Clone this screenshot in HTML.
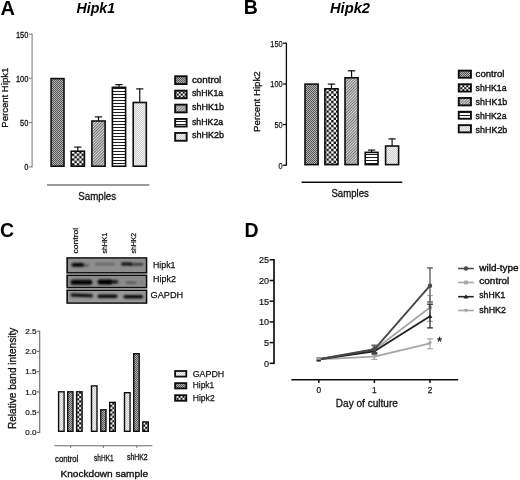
<!DOCTYPE html>
<html><head><meta charset="utf-8"><title>Figure</title>
<style>
html,body{margin:0;padding:0;background:#fff;}
body{width:520px;height:480px;overflow:hidden;font-family:"Liberation Sans",sans-serif;}
svg{display:block;font-family:"Liberation Sans",sans-serif;}
</style></head><body>
<svg width="520" height="480" viewBox="0 0 520 480">
<defs>
<pattern id="pDots" width="2" height="2" patternUnits="userSpaceOnUse"><rect width="2" height="2" fill="#b4b4b4"/><rect width="1" height="1" fill="#555"/><rect x="1" y="1" width="1" height="1" fill="#555"/></pattern>
<pattern id="pCheck" width="4.8" height="4.8" patternUnits="userSpaceOnUse"><rect width="4.8" height="4.8" fill="#fff"/><rect width="2.4" height="2.4" fill="#111"/><rect x="2.4" y="2.4" width="2.4" height="2.4" fill="#111"/></pattern>
<pattern id="pDiag" width="2" height="2" patternUnits="userSpaceOnUse" patternTransform="rotate(-45)"><rect width="2" height="2" fill="#dcdcdc"/><rect width="2" height="0.9" fill="#666"/></pattern>
<pattern id="pHoriz" width="3" height="3" patternUnits="userSpaceOnUse" patternTransform="translate(0 1)"><rect width="3" height="3" fill="#fff"/><rect y="0" width="3" height="1.0" fill="#1c1c1c"/></pattern>
<pattern id="pLight" width="2" height="2" patternUnits="userSpaceOnUse"><rect width="2" height="2" fill="#cdcdcd"/><rect width="1" height="1" fill="#f2f2f2"/><rect x="1" y="1" width="1" height="1" fill="#f2f2f2"/></pattern>
<pattern id="pCheckS" width="4.4" height="4.4" patternUnits="userSpaceOnUse"><rect width="4.4" height="4.4" fill="#fff"/><rect width="2.2" height="2.2" fill="#111"/><rect x="2.2" y="2.2" width="2.2" height="2.2" fill="#111"/></pattern>
<filter id="blur" x="-5%" y="-5%" width="110%" height="110%"><feGaussianBlur stdDeviation="0.4"/></filter>
<filter id="blurB" x="-30%" y="-80%" width="160%" height="260%"><feGaussianBlur stdDeviation="0.8"/></filter>
</defs>
<rect width="520" height="480" fill="#fff"/>
<g filter="url(#blur)">

<text x="0.5" y="14.6" font-size="20" font-weight="bold" fill="#000" >A</text>
<text x="76.6" y="12.8" font-size="14.4" textLength="38.5" lengthAdjust="spacingAndGlyphs" font-weight="bold" font-style="italic" fill="#000" >Hipk1</text>
<line x1="32.10" y1="33.60" x2="32.10" y2="167.40" stroke="#808080" stroke-width="1.1" />
<line x1="28.80" y1="34.10" x2="32.10" y2="34.10" stroke="#808080" stroke-width="1.1" />
<text x="28.4" y="37.6" font-size="9.7" textLength="12.450000000000001" lengthAdjust="spacingAndGlyphs" text-anchor="end" stroke="#141414" stroke-width="0.3" fill="#141414" >150</text>
<line x1="28.80" y1="78.20" x2="32.10" y2="78.20" stroke="#808080" stroke-width="1.1" />
<text x="28.4" y="81.7" font-size="9.7" textLength="12.450000000000001" lengthAdjust="spacingAndGlyphs" text-anchor="end" stroke="#141414" stroke-width="0.3" fill="#141414" >100</text>
<line x1="28.80" y1="122.60" x2="32.10" y2="122.60" stroke="#808080" stroke-width="1.1" />
<text x="28.4" y="126.1" font-size="9.7" textLength="8.3" lengthAdjust="spacingAndGlyphs" text-anchor="end" stroke="#141414" stroke-width="0.3" fill="#141414" >50</text>
<line x1="28.80" y1="166.90" x2="32.10" y2="166.90" stroke="#808080" stroke-width="1.1" />
<text x="28.4" y="170.4" font-size="9.7" textLength="4.15" lengthAdjust="spacingAndGlyphs" text-anchor="end" stroke="#141414" stroke-width="0.3" fill="#141414" >0</text>
<text x="8.1" y="127.7" font-size="9.9" textLength="60" lengthAdjust="spacingAndGlyphs" transform="rotate(-90 8.1 127.7)" stroke="#141414" stroke-width="0.3" fill="#141414" >Percent Hipk1</text>
<rect x="51.10" y="78.60" width="12.90" height="87.60" fill="url(#pDots)" stroke="#111" stroke-width="1.6"/>
<line x1="77.80" y1="146.80" x2="77.80" y2="151.40" stroke="#111" stroke-width="1.2" />
<line x1="74.15" y1="147.10" x2="81.45" y2="147.10" stroke="#111" stroke-width="1.2" />
<rect x="71.20" y="151.20" width="13.20" height="15.00" fill="url(#pCheck)" stroke="#111" stroke-width="1.6"/>
<line x1="98.50" y1="116.60" x2="98.50" y2="121.20" stroke="#111" stroke-width="1.2" />
<line x1="94.85" y1="116.90" x2="102.15" y2="116.90" stroke="#111" stroke-width="1.2" />
<rect x="91.90" y="121.00" width="13.20" height="45.20" fill="url(#pDiag)" stroke="#111" stroke-width="1.6"/>
<line x1="119.00" y1="84.30" x2="119.00" y2="87.50" stroke="#111" stroke-width="1.2" />
<line x1="115.35" y1="84.60" x2="122.65" y2="84.60" stroke="#111" stroke-width="1.2" />
<rect x="112.40" y="87.30" width="13.20" height="78.90" fill="url(#pHoriz)" stroke="#111" stroke-width="1.6"/>
<line x1="139.75" y1="88.60" x2="139.75" y2="102.70" stroke="#111" stroke-width="1.2" />
<line x1="136.10" y1="88.90" x2="143.40" y2="88.90" stroke="#111" stroke-width="1.2" />
<rect x="133.20" y="102.50" width="13.10" height="63.70" fill="url(#pLight)" stroke="#111" stroke-width="1.6"/>
<line x1="47.00" y1="185.00" x2="149.30" y2="185.00" stroke="#787878" stroke-width="1.4" />
<text x="78.3" y="200.4" font-size="10" textLength="37.8" lengthAdjust="spacingAndGlyphs" stroke="#141414" stroke-width="0.3" fill="#141414" >Samples</text>
<pattern id="pcA" x="176.70" y="91.60" width="4.0" height="4.0" patternUnits="userSpaceOnUse"><rect width="4.0" height="4.0" fill="#111"/><rect width="2.0" height="2.0" fill="#fff"/><rect x="2.0" y="2.0" width="2.0" height="2.0" fill="#fff"/></pattern>
<rect x="175.15" y="76.25" width="11.50" height="7.80" fill="url(#pDots)" stroke="#111" stroke-width="1.9"/>
<text x="191.9" y="82.5" font-size="9.9" textLength="29.4" lengthAdjust="spacingAndGlyphs" stroke="#141414" stroke-width="0.4" fill="#141414" >control</text>
<rect x="175.15" y="90.65" width="11.50" height="7.60" fill="url(#pcA)" stroke="#111" stroke-width="1.9"/>
<text x="191.9" y="96.3" font-size="9.9" textLength="31.3" lengthAdjust="spacingAndGlyphs" stroke="#141414" stroke-width="0.4" fill="#141414" >shHK1a</text>
<rect x="175.15" y="104.65" width="11.50" height="7.70" fill="url(#pDiag)" stroke="#111" stroke-width="1.9"/>
<text x="191.9" y="110.3" font-size="9.9" textLength="32.0" lengthAdjust="spacingAndGlyphs" stroke="#141414" stroke-width="0.4" fill="#141414" >shHK1b</text>
<rect x="175.15" y="118.95" width="11.50" height="7.60" fill="url(#pHoriz)" stroke="#111" stroke-width="1.9"/>
<text x="191.9" y="124.6" font-size="9.9" textLength="31.3" lengthAdjust="spacingAndGlyphs" stroke="#141414" stroke-width="0.4" fill="#141414" >shHK2a</text>
<rect x="175.15" y="132.95" width="11.50" height="7.80" fill="url(#pLight)" stroke="#111" stroke-width="1.9"/>
<text x="191.9" y="138.4" font-size="9.9" textLength="32.0" lengthAdjust="spacingAndGlyphs" stroke="#141414" stroke-width="0.4" fill="#141414" >shHK2b</text>
<text x="243.8" y="14.2" font-size="19.5" font-weight="bold" fill="#000" >B</text>
<text x="330.0" y="12.5" font-size="14.4" textLength="40" lengthAdjust="spacingAndGlyphs" font-weight="bold" font-style="italic" fill="#000" >Hipk2</text>
<line x1="286.40" y1="42.60" x2="286.40" y2="165.80" stroke="#111" stroke-width="1.3" />
<line x1="283.00" y1="43.20" x2="286.40" y2="43.20" stroke="#111" stroke-width="1.3" />
<text x="282.6" y="46.6" font-size="9.3" textLength="12.299999999999999" lengthAdjust="spacingAndGlyphs" text-anchor="end" stroke="#141414" stroke-width="0.25" fill="#141414" >150</text>
<line x1="283.00" y1="84.00" x2="286.40" y2="84.00" stroke="#111" stroke-width="1.3" />
<text x="282.6" y="87.4" font-size="9.3" textLength="12.299999999999999" lengthAdjust="spacingAndGlyphs" text-anchor="end" stroke="#141414" stroke-width="0.25" fill="#141414" >100</text>
<line x1="283.00" y1="124.60" x2="286.40" y2="124.60" stroke="#111" stroke-width="1.3" />
<text x="282.6" y="128.0" font-size="9.3" textLength="8.2" lengthAdjust="spacingAndGlyphs" text-anchor="end" stroke="#141414" stroke-width="0.25" fill="#141414" >50</text>
<line x1="283.00" y1="165.20" x2="286.40" y2="165.20" stroke="#111" stroke-width="1.3" />
<text x="282.6" y="168.6" font-size="9.3" textLength="4.1" lengthAdjust="spacingAndGlyphs" text-anchor="end" stroke="#141414" stroke-width="0.25" fill="#141414" >0</text>
<text x="260.4" y="132.0" font-size="9.7" textLength="60.7" lengthAdjust="spacingAndGlyphs" transform="rotate(-90 260.4 132.0)" stroke="#141414" stroke-width="0.3" fill="#141414" >Percent Hipk2</text>
<rect x="305.00" y="84.10" width="13.10" height="80.50" fill="url(#pDots)" stroke="#111" stroke-width="1.6"/>
<line x1="331.45" y1="83.80" x2="331.45" y2="89.00" stroke="#111" stroke-width="1.2" />
<line x1="327.80" y1="84.10" x2="335.10" y2="84.10" stroke="#111" stroke-width="1.2" />
<rect x="324.90" y="88.80" width="13.10" height="75.80" fill="url(#pCheck)" stroke="#111" stroke-width="1.6"/>
<line x1="351.55" y1="70.50" x2="351.55" y2="78.00" stroke="#111" stroke-width="1.2" />
<line x1="347.90" y1="70.80" x2="355.20" y2="70.80" stroke="#111" stroke-width="1.2" />
<rect x="345.00" y="77.80" width="13.10" height="86.80" fill="url(#pDiag)" stroke="#111" stroke-width="1.6"/>
<line x1="371.60" y1="149.80" x2="371.60" y2="152.60" stroke="#111" stroke-width="1.2" />
<line x1="367.95" y1="150.10" x2="375.25" y2="150.10" stroke="#111" stroke-width="1.2" />
<rect x="365.20" y="152.40" width="12.80" height="12.20" fill="url(#pHoriz)" stroke="#111" stroke-width="1.6"/>
<line x1="392.10" y1="138.60" x2="392.10" y2="146.20" stroke="#111" stroke-width="1.2" />
<line x1="388.45" y1="138.90" x2="395.75" y2="138.90" stroke="#111" stroke-width="1.2" />
<rect x="385.60" y="146.00" width="13.00" height="18.60" fill="url(#pLight)" stroke="#111" stroke-width="1.6"/>
<line x1="301.50" y1="182.20" x2="402.30" y2="182.20" stroke="#111" stroke-width="1.4" />
<text x="331.4" y="196.5" font-size="10" textLength="37.4" lengthAdjust="spacingAndGlyphs" stroke="#141414" stroke-width="0.3" fill="#141414" >Samples</text>
<pattern id="pcB" x="460.30" y="85.20" width="4.0" height="4.0" patternUnits="userSpaceOnUse"><rect width="4.0" height="4.0" fill="#111"/><rect width="2.0" height="2.0" fill="#fff"/><rect x="2.0" y="2.0" width="2.0" height="2.0" fill="#fff"/></pattern>
<rect x="458.75" y="70.65" width="12.20" height="7.10" fill="url(#pDots)" stroke="#111" stroke-width="1.9"/>
<text x="475.6" y="76.7" font-size="9.9" textLength="28.9" lengthAdjust="spacingAndGlyphs" stroke="#141414" stroke-width="0.4" fill="#141414" >control</text>
<rect x="458.75" y="84.25" width="12.20" height="7.30" fill="url(#pcB)" stroke="#111" stroke-width="1.9"/>
<text x="475.6" y="90.8" font-size="9.9" textLength="30.9" lengthAdjust="spacingAndGlyphs" stroke="#141414" stroke-width="0.4" fill="#141414" >shHK1a</text>
<rect x="458.75" y="97.95" width="12.20" height="7.40" fill="url(#pDiag)" stroke="#111" stroke-width="1.9"/>
<text x="475.6" y="104.7" font-size="9.9" textLength="31.7" lengthAdjust="spacingAndGlyphs" stroke="#141414" stroke-width="0.4" fill="#141414" >shHK1b</text>
<rect x="458.75" y="111.75" width="12.20" height="7.00" fill="url(#pHoriz)" stroke="#111" stroke-width="1.9"/>
<text x="475.6" y="119.1" font-size="9.9" textLength="30.9" lengthAdjust="spacingAndGlyphs" stroke="#141414" stroke-width="0.4" fill="#141414" >shHK2a</text>
<rect x="458.75" y="125.15" width="12.20" height="7.20" fill="url(#pLight)" stroke="#111" stroke-width="1.9"/>
<text x="475.6" y="133.0" font-size="9.9" textLength="31.7" lengthAdjust="spacingAndGlyphs" stroke="#141414" stroke-width="0.4" fill="#141414" >shHK2b</text>
<text x="0" y="236.7" font-size="19.5" font-weight="bold" fill="#000" >C</text>
<text x="77.7" y="253.4" font-size="7.8" textLength="25.6" lengthAdjust="spacingAndGlyphs" transform="rotate(-90 77.7 253.4)" stroke="#141414" stroke-width="0.25" fill="#141414" >control</text>
<text x="107.0" y="253.4" font-size="7.8" textLength="20.6" lengthAdjust="spacingAndGlyphs" transform="rotate(-90 107.0 253.4)" stroke="#141414" stroke-width="0.25" fill="#141414" >shHK1</text>
<text x="136.2" y="253.4" font-size="7.8" textLength="20.6" lengthAdjust="spacingAndGlyphs" transform="rotate(-90 136.2 253.4)" stroke="#141414" stroke-width="0.25" fill="#141414" >shHK2</text>
</g>
<g filter="url(#blur)">
<rect x="66.4" y="257.2" width="80.9" height="46.60000000000002" fill="#cfcfcf"/>
<rect x="66.4" y="257.2" width="80.9" height="16.30000000000001" fill="#0a0a0a"/>
<rect x="67.9" y="258.59999999999997" width="77.9" height="13.50000000000001" fill="#8e8e8e"/>
<rect x="66.4" y="274.6" width="80.9" height="13.699999999999989" fill="#0a0a0a"/>
<rect x="67.9" y="276.0" width="77.9" height="10.899999999999988" fill="#8a8a8a"/>
<rect x="66.4" y="289.6" width="80.9" height="14.199999999999989" fill="#0a0a0a"/>
<rect x="67.9" y="291.0" width="77.9" height="11.399999999999988" fill="#979797"/>
<rect x="71.5" y="262.90000000000003" width="12.5" height="3.8" rx="1.9" fill="#000" opacity="1.0" filter="url(#blurB)"/>
<rect x="82" y="264.2" width="7" height="2.0" rx="1.0" fill="#000" opacity="0.45" filter="url(#blurB)"/>
<rect x="95" y="263.2" width="20" height="2.0" rx="1.0" fill="#000" opacity="0.33" filter="url(#blurB)"/>
<rect x="121" y="262.4" width="11" height="3.2" rx="1.6" fill="#000" opacity="0.95" filter="url(#blurB)"/>
<rect x="130" y="263.2" width="13.300000000000011" height="2.4" rx="1.2" fill="#000" opacity="0.7" filter="url(#blurB)"/>
<rect x="70.6" y="279.7" width="21.700000000000003" height="5.0" rx="2.5" fill="#000" opacity="1.0" filter="url(#blurB)"/>
<rect x="97.5" y="279.6" width="14.5" height="4.8" rx="2.4" fill="#000" opacity="1.0" filter="url(#blurB)"/>
<rect x="108" y="280.2" width="10.200000000000003" height="3.2" rx="1.6" fill="#000" opacity="0.9" filter="url(#blurB)"/>
<rect x="126" y="281.70000000000005" width="10.400000000000006" height="1.8" rx="0.9" fill="#000" opacity="0.5" filter="url(#blurB)"/>
<rect x="140" y="281.8" width="3" height="1.6" rx="0.8" fill="#000" opacity="0.2" filter="url(#blurB)"/>
<rect x="70.6" y="293.7" width="22.400000000000006" height="3.4" rx="1.7" fill="#000" opacity="0.95" filter="url(#blurB)" transform="rotate(2 81.8 295.4)"/>
<rect x="97.5" y="294.5" width="19.900000000000006" height="3.6" rx="1.8" fill="#000" opacity="0.95" filter="url(#blurB)"/>
<rect x="123.4" y="295.0" width="19.900000000000006" height="3.6" rx="1.8" fill="#000" opacity="0.95" filter="url(#blurB)"/>
</g>
<g filter="url(#blur)">
<text x="153.0" y="268.3" font-size="9.6" textLength="22.5" lengthAdjust="spacingAndGlyphs" stroke="#141414" stroke-width="0.25" fill="#141414" >Hipk1</text>
<text x="153.0" y="282.0" font-size="9.6" textLength="22.9" lengthAdjust="spacingAndGlyphs" stroke="#141414" stroke-width="0.25" fill="#141414" >Hipk2</text>
<text x="150.5" y="298.0" font-size="9.6" textLength="32.7" lengthAdjust="spacingAndGlyphs" stroke="#141414" stroke-width="0.25" fill="#141414" >GAPDH</text>
<line x1="39.70" y1="330.80" x2="39.70" y2="432.90" stroke="#6a6a6a" stroke-width="1.1" />
<line x1="36.90" y1="331.30" x2="39.70" y2="331.30" stroke="#6a6a6a" stroke-width="1.1" />
<text x="36.5" y="334.0" font-size="8.1" text-anchor="end" stroke="#141414" stroke-width="0.2" fill="#141414" >2.5</text>
<line x1="36.90" y1="351.40" x2="39.70" y2="351.40" stroke="#6a6a6a" stroke-width="1.1" />
<text x="36.5" y="354.09999999999997" font-size="8.1" text-anchor="end" stroke="#141414" stroke-width="0.2" fill="#141414" >2.0</text>
<line x1="36.90" y1="371.70" x2="39.70" y2="371.70" stroke="#6a6a6a" stroke-width="1.1" />
<text x="36.5" y="374.4" font-size="8.1" text-anchor="end" stroke="#141414" stroke-width="0.2" fill="#141414" >1.5</text>
<line x1="36.90" y1="391.90" x2="39.70" y2="391.90" stroke="#6a6a6a" stroke-width="1.1" />
<text x="36.5" y="394.59999999999997" font-size="8.1" text-anchor="end" stroke="#141414" stroke-width="0.2" fill="#141414" >1.0</text>
<line x1="36.90" y1="412.20" x2="39.70" y2="412.20" stroke="#6a6a6a" stroke-width="1.1" />
<text x="36.5" y="414.9" font-size="8.1" text-anchor="end" stroke="#141414" stroke-width="0.2" fill="#141414" >0.5</text>
<line x1="36.90" y1="432.40" x2="39.70" y2="432.40" stroke="#6a6a6a" stroke-width="1.1" />
<text x="36.5" y="435.09999999999997" font-size="8.1" text-anchor="end" stroke="#141414" stroke-width="0.2" fill="#141414" >0.0</text>
<text x="15.6" y="429.0" font-size="10" textLength="101.3" lengthAdjust="spacingAndGlyphs" transform="rotate(-90 15.6 429.0)" stroke="#141414" stroke-width="0.3" fill="#141414" >Relative band intensity</text>
<rect x="58.60" y="391.80" width="5.50" height="39.50" fill="url(#pLight)" stroke="#111" stroke-width="1.4"/>
<rect x="67.70" y="391.80" width="5.30" height="39.50" fill="url(#pDots)" stroke="#111" stroke-width="1.4"/>
<rect x="76.60" y="391.80" width="5.50" height="39.50" fill="url(#pCheckS)" stroke="#111" stroke-width="1.4"/>
<rect x="91.50" y="385.90" width="5.50" height="45.40" fill="url(#pLight)" stroke="#111" stroke-width="1.4"/>
<rect x="100.80" y="409.80" width="5.20" height="21.50" fill="url(#pDots)" stroke="#111" stroke-width="1.4"/>
<rect x="109.70" y="402.40" width="5.60" height="28.90" fill="url(#pCheckS)" stroke="#111" stroke-width="1.4"/>
<rect x="124.50" y="392.70" width="5.60" height="38.60" fill="url(#pLight)" stroke="#111" stroke-width="1.4"/>
<rect x="133.70" y="353.70" width="5.50" height="77.60" fill="url(#pDots)" stroke="#111" stroke-width="1.4"/>
<rect x="142.80" y="421.90" width="5.50" height="9.40" fill="url(#pCheckS)" stroke="#111" stroke-width="1.4"/>
<line x1="54.40" y1="445.70" x2="152.30" y2="445.70" stroke="#6a6a6a" stroke-width="1.1" />
<line x1="70.60" y1="445.70" x2="70.60" y2="447.80" stroke="#6a6a6a" stroke-width="1.1" />
<line x1="103.40" y1="445.70" x2="103.40" y2="447.80" stroke="#6a6a6a" stroke-width="1.1" />
<line x1="136.80" y1="445.70" x2="136.80" y2="447.80" stroke="#6a6a6a" stroke-width="1.1" />
<text x="55" y="461.8" font-size="8.7" textLength="23.3" lengthAdjust="spacingAndGlyphs" stroke="#141414" stroke-width="0.3" fill="#141414" >control</text>
<text x="94.1" y="460.8" font-size="8.5" textLength="19.5" lengthAdjust="spacingAndGlyphs" stroke="#141414" stroke-width="0.3" fill="#141414" >shHK1</text>
<text x="127.0" y="459.7" font-size="8.5" textLength="20.7" lengthAdjust="spacingAndGlyphs" stroke="#141414" stroke-width="0.3" fill="#141414" >shHK2</text>
<text x="60.5" y="476.6" font-size="9.7" textLength="87.5" lengthAdjust="spacingAndGlyphs" stroke="#141414" stroke-width="0.35" fill="#141414" >Knockdown sample</text>
<pattern id="pcC" x="176.50" y="395.80" width="4.0" height="4.0" patternUnits="userSpaceOnUse"><rect width="4.0" height="4.0" fill="#111"/><rect width="2.0" height="2.0" fill="#fff"/><rect x="2.0" y="2.0" width="2.0" height="2.0" fill="#fff"/></pattern>
<rect x="175.10" y="371.00" width="11.20" height="5.60" fill="url(#pLight)" stroke="#111" stroke-width="1.8"/>
<text x="192.7" y="376.8" font-size="9.5" textLength="31.6" lengthAdjust="spacingAndGlyphs" stroke="#141414" stroke-width="0.25" fill="#141414" >GAPDH</text>
<rect x="175.10" y="383.10" width="11.20" height="5.30" fill="url(#pDots)" stroke="#111" stroke-width="1.8"/>
<text x="192.7" y="388.3" font-size="9.5" textLength="21.6" lengthAdjust="spacingAndGlyphs" stroke="#141414" stroke-width="0.25" fill="#141414" >Hipk1</text>
<rect x="175.10" y="395.20" width="11.20" height="5.60" fill="url(#pcC)" stroke="#111" stroke-width="1.8"/>
<text x="192.7" y="401.0" font-size="9.5" textLength="22.0" lengthAdjust="spacingAndGlyphs" stroke="#141414" stroke-width="0.25" fill="#141414" >Hipk2</text>
<text x="244.6" y="236.6" font-size="19.5" font-weight="bold" fill="#000" >D</text>
<line x1="274.00" y1="259.00" x2="274.00" y2="364.10" stroke="#111" stroke-width="1.7" />
<line x1="269.60" y1="259.80" x2="274.00" y2="259.80" stroke="#111" stroke-width="1.5" />
<text x="269.0" y="263.2" font-size="9.1" text-anchor="end" stroke="#141414" stroke-width="0.2" fill="#141414" >25</text>
<line x1="269.60" y1="280.50" x2="274.00" y2="280.50" stroke="#111" stroke-width="1.5" />
<text x="269.0" y="283.9" font-size="9.1" text-anchor="end" stroke="#141414" stroke-width="0.2" fill="#141414" >20</text>
<line x1="269.60" y1="301.20" x2="274.00" y2="301.20" stroke="#111" stroke-width="1.5" />
<text x="269.0" y="304.6" font-size="9.1" text-anchor="end" stroke="#141414" stroke-width="0.2" fill="#141414" >15</text>
<line x1="269.60" y1="321.90" x2="274.00" y2="321.90" stroke="#111" stroke-width="1.5" />
<text x="269.0" y="325.3" font-size="9.1" text-anchor="end" stroke="#141414" stroke-width="0.2" fill="#141414" >10</text>
<line x1="269.60" y1="342.60" x2="274.00" y2="342.60" stroke="#111" stroke-width="1.5" />
<text x="269.0" y="346.0" font-size="9.1" text-anchor="end" stroke="#141414" stroke-width="0.2" fill="#141414" >5</text>
<line x1="269.60" y1="363.30" x2="274.00" y2="363.30" stroke="#111" stroke-width="1.5" />
<text x="269.0" y="366.7" font-size="9.1" text-anchor="end" stroke="#141414" stroke-width="0.2" fill="#141414" >0</text>
<line x1="291.30" y1="379.80" x2="458.20" y2="379.80" stroke="#111" stroke-width="1.6" />
<line x1="318.80" y1="379.80" x2="318.80" y2="383.00" stroke="#111" stroke-width="1.5" />
<text x="318.8" y="393.0" font-size="9.2" textLength="4.6" lengthAdjust="spacingAndGlyphs" text-anchor="middle" stroke="#141414" stroke-width="0.25" fill="#141414" >0</text>
<line x1="374.40" y1="379.80" x2="374.40" y2="383.00" stroke="#111" stroke-width="1.5" />
<text x="374.4" y="393.0" font-size="9.2" textLength="4.6" lengthAdjust="spacingAndGlyphs" text-anchor="middle" stroke="#141414" stroke-width="0.25" fill="#141414" >1</text>
<line x1="430.00" y1="379.80" x2="430.00" y2="383.00" stroke="#111" stroke-width="1.5" />
<text x="430.0" y="393.0" font-size="9.2" textLength="4.6" lengthAdjust="spacingAndGlyphs" text-anchor="middle" stroke="#141414" stroke-width="0.25" fill="#141414" >2</text>
<text x="335.8" y="406.9" font-size="10" textLength="62.1" lengthAdjust="spacingAndGlyphs" stroke="#141414" stroke-width="0.3" fill="#141414" >Day of culture</text>
<line x1="374.40" y1="346.50" x2="374.40" y2="353.00" stroke="#a6a6a6" stroke-width="1.2" />
<line x1="371.50" y1="346.50" x2="377.30" y2="346.50" stroke="#a6a6a6" stroke-width="1.2" />
<line x1="371.50" y1="353.00" x2="377.30" y2="353.00" stroke="#a6a6a6" stroke-width="1.2" />
<line x1="430.00" y1="295.60" x2="430.00" y2="321.40" stroke="#a6a6a6" stroke-width="1.2" />
<line x1="427.10" y1="295.60" x2="432.90" y2="295.60" stroke="#a6a6a6" stroke-width="1.2" />
<line x1="427.10" y1="321.40" x2="432.90" y2="321.40" stroke="#a6a6a6" stroke-width="1.2" />
<polyline points="318.8,359.2 374.4,349.8 430.0,307.5" fill="none" stroke="#a6a6a6" stroke-width="1.9" stroke-linejoin="round"/>
<rect x="316.90000000000003" y="357.3" width="3.8" height="3.8" fill="#a6a6a6"/>
<rect x="372.5" y="347.90000000000003" width="3.8" height="3.8" fill="#a6a6a6"/>
<rect x="428.1" y="305.6" width="3.8" height="3.8" fill="#a6a6a6"/>
<line x1="374.40" y1="354.60" x2="374.40" y2="359.40" stroke="#a6a6a6" stroke-width="1.2" />
<line x1="371.50" y1="354.60" x2="377.30" y2="354.60" stroke="#a6a6a6" stroke-width="1.2" />
<line x1="371.50" y1="359.40" x2="377.30" y2="359.40" stroke="#a6a6a6" stroke-width="1.2" />
<line x1="430.00" y1="338.80" x2="430.00" y2="348.70" stroke="#a6a6a6" stroke-width="1.2" />
<line x1="427.10" y1="338.80" x2="432.90" y2="338.80" stroke="#a6a6a6" stroke-width="1.2" />
<line x1="427.10" y1="348.70" x2="432.90" y2="348.70" stroke="#a6a6a6" stroke-width="1.2" />
<polyline points="318.8,359.4 374.4,356.6 430.0,343.4" fill="none" stroke="#a6a6a6" stroke-width="1.9" stroke-linejoin="round"/>
<path d="M316.6,357.79999999999995 L321.0,357.79999999999995 L318.8,361.59999999999997 Z" fill="#a6a6a6"/>
<path d="M372.2,355.0 L376.59999999999997,355.0 L374.4,358.8 Z" fill="#a6a6a6"/>
<path d="M427.8,341.79999999999995 L432.2,341.79999999999995 L430.0,345.59999999999997 Z" fill="#a6a6a6"/>
<line x1="374.40" y1="349.00" x2="374.40" y2="353.80" stroke="#222" stroke-width="1.2" />
<line x1="371.50" y1="349.00" x2="377.30" y2="349.00" stroke="#222" stroke-width="1.2" />
<line x1="371.50" y1="353.80" x2="377.30" y2="353.80" stroke="#222" stroke-width="1.2" />
<line x1="430.00" y1="304.20" x2="430.00" y2="327.90" stroke="#222" stroke-width="1.2" />
<line x1="427.10" y1="304.20" x2="432.90" y2="304.20" stroke="#222" stroke-width="1.2" />
<line x1="427.10" y1="327.90" x2="432.90" y2="327.90" stroke="#222" stroke-width="1.2" />
<polyline points="318.8,359.2 374.4,351.2 430.0,316.2" fill="none" stroke="#222" stroke-width="1.9" stroke-linejoin="round"/>
<path d="M316.40000000000003,361.0 L321.2,361.0 L318.8,356.8 Z" fill="#222"/>
<path d="M372.0,353.0 L376.79999999999995,353.0 L374.4,348.8 Z" fill="#222"/>
<path d="M427.6,318.0 L432.4,318.0 L430.0,313.8 Z" fill="#222"/>
<line x1="374.40" y1="345.20" x2="374.40" y2="352.60" stroke="#484848" stroke-width="1.2" />
<line x1="371.50" y1="345.20" x2="377.30" y2="345.20" stroke="#484848" stroke-width="1.2" />
<line x1="371.50" y1="352.60" x2="377.30" y2="352.60" stroke="#484848" stroke-width="1.2" />
<line x1="430.00" y1="267.90" x2="430.00" y2="302.00" stroke="#484848" stroke-width="1.2" />
<line x1="427.10" y1="267.90" x2="432.90" y2="267.90" stroke="#484848" stroke-width="1.2" />
<line x1="427.10" y1="302.00" x2="432.90" y2="302.00" stroke="#484848" stroke-width="1.2" />
<polyline points="318.8,359.2 374.4,349.3 430.0,285.7" fill="none" stroke="#484848" stroke-width="1.9" stroke-linejoin="round"/>
<circle cx="318.8" cy="359.2" r="2.2" fill="#484848"/>
<circle cx="374.4" cy="349.3" r="2.2" fill="#484848"/>
<circle cx="430.0" cy="285.7" r="2.2" fill="#484848"/>
<rect x="316.6" y="357.0" width="4.2" height="3.2" fill="#9a9a9a"/><rect x="316.6" y="359.9" width="4.2" height="1.6" fill="#333"/>
<text x="437.0" y="345.8" font-size="13" stroke="#111" stroke-width="0.3" fill="#111" >*</text>
<line x1="458.10" y1="268.50" x2="473.70" y2="268.50" stroke="#484848" stroke-width="1.6" />
<circle cx="466.0" cy="268.5" r="2.2" fill="#484848"/>
<text x="479.3" y="270.6" font-size="9.9" textLength="39.2" lengthAdjust="spacingAndGlyphs" stroke="#141414" stroke-width="0.4" fill="#141414" >wild-type</text>
<line x1="458.10" y1="282.50" x2="473.70" y2="282.50" stroke="#a6a6a6" stroke-width="1.6" />
<rect x="464.1" y="280.6" width="3.8" height="3.8" fill="#a6a6a6"/>
<text x="479.3" y="284.1" font-size="9.9" textLength="30.0" lengthAdjust="spacingAndGlyphs" stroke="#141414" stroke-width="0.4" fill="#141414" >control</text>
<line x1="458.10" y1="296.70" x2="473.70" y2="296.70" stroke="#222" stroke-width="1.6" />
<path d="M463.6,298.5 L468.4,298.5 L466.0,294.3 Z" fill="#222"/>
<text x="479.3" y="298.0" font-size="9.9" textLength="25.9" lengthAdjust="spacingAndGlyphs" stroke="#141414" stroke-width="0.4" fill="#141414" >shHK1</text>
<line x1="458.10" y1="310.50" x2="473.70" y2="310.50" stroke="#a6a6a6" stroke-width="1.6" />
<path d="M463.8,308.9 L468.2,308.9 L466.0,312.7 Z" fill="#a6a6a6"/>
<text x="479.3" y="313.2" font-size="9.9" textLength="26.6" lengthAdjust="spacingAndGlyphs" stroke="#141414" stroke-width="0.4" fill="#141414" >shHK2</text>
</g>
</svg>
</body></html>
